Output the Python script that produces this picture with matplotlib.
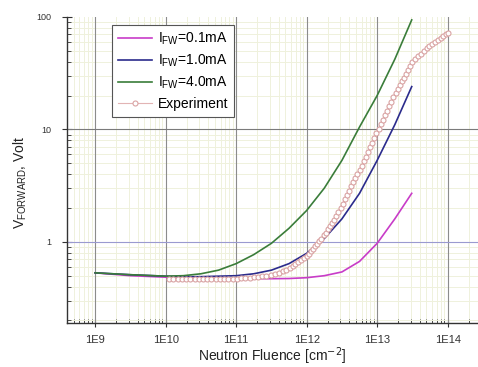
import matplotlib
matplotlib.use("Agg")
import matplotlib.pyplot as plt
import matplotlib.ticker as mticker
import numpy as np

plt.rcParams['font.family'] = ['Liberation Sans', 'DejaVu Sans']

# simulated curves, log10 of fluence vs forward voltage
lf_sim = [9.0, 9.5, 10.0, 10.25, 10.5, 10.75, 11.0, 11.25, 11.5, 11.75, 12.0, 12.25, 12.5, 12.75, 13.0, 13.25, 13.49]
v_01mA = [0.53, 0.50, 0.485, 0.48, 0.475, 0.472, 0.47, 0.47, 0.47, 0.472, 0.48, 0.50, 0.54, 0.67, 0.97, 1.6, 2.7]
v_10mA = [0.53, 0.51, 0.495, 0.49, 0.49, 0.495, 0.50, 0.52, 0.56, 0.64, 0.79, 1.07, 1.6, 2.7, 5.3, 11.0, 24.0]
v_40mA = [0.53, 0.51, 0.495, 0.50, 0.52, 0.56, 0.64, 0.77, 0.97, 1.32, 1.9, 3.0, 5.3, 10.5, 20.0, 42.0, 94.0]

# experiment points
lf_exp = [10.05, 10.11, 10.17, 10.23, 10.29, 10.35, 10.41, 10.47, 10.53, 10.59,
          10.65, 10.71, 10.77, 10.83, 10.89, 10.95, 11.01, 11.07, 11.13, 11.19,
          11.25, 11.31, 11.37, 11.43, 11.49, 11.55, 11.61, 11.66, 11.71, 11.76,
          11.80, 11.84, 11.88, 11.92, 11.96, 12.00, 12.03, 12.06, 12.09, 12.12,
          12.15, 12.18, 12.21, 12.24, 12.27, 12.30, 12.33, 12.36, 12.39, 12.42,
          12.45, 12.48, 12.51, 12.54, 12.57, 12.60, 12.63, 12.66, 12.69, 12.72,
          12.75, 12.78, 12.81, 12.84, 12.87, 12.90, 12.93, 12.96, 12.99, 13.02,
          13.05, 13.08, 13.11, 13.14, 13.17, 13.20, 13.23, 13.26, 13.29, 13.32,
          13.35, 13.38, 13.41, 13.44, 13.47, 13.50, 13.54, 13.58, 13.62, 13.66,
          13.70, 13.74, 13.78, 13.82, 13.86, 13.90, 13.94, 13.98, 14.00]
v_exp = [0.465, 0.465, 0.465, 0.464, 0.464, 0.464, 0.464, 0.464, 0.464, 0.465,
         0.465, 0.466, 0.467, 0.468, 0.469, 0.470, 0.472, 0.474, 0.477, 0.480,
         0.484, 0.489, 0.494, 0.500, 0.508, 0.518, 0.532, 0.548, 0.566, 0.588,
         0.610, 0.635, 0.662, 0.690, 0.720, 0.741, 0.780, 0.822, 0.866, 0.912,
         0.960, 1.01, 1.07, 1.14, 1.21, 1.29, 1.37, 1.46, 1.55, 1.68,
         1.84, 2.00, 2.19, 2.39, 2.62, 2.86, 3.12, 3.40, 3.70, 4.02,
         4.37, 4.74, 5.18, 5.70, 6.28, 6.92, 7.62, 8.39, 9.25, 10.1,
         11.1, 12.2, 13.3, 14.6, 16.0, 17.5, 19.2, 21.0, 22.7, 24.6,
         26.7, 28.9, 31.3, 33.9, 36.7, 39.8, 42.1, 44.5, 47.0, 49.7,
         52.5, 55.5, 57.9, 60.4, 62.8, 65.5, 68.2, 71.0, 72.4]

f_sim = 10.0 ** np.array(lf_sim)
f_exp = 10.0 ** np.array(lf_exp)

fig = plt.figure(figsize=(4.78, 3.67), dpi=100)
ax = fig.add_axes([0.140, 0.120, 0.860, 0.834])

ax.plot(f_sim, v_01mA, color='#c83cc8', lw=1.2, label='I$_{\\mathregular{FW}}$=0.1mA', zorder=3)
ax.plot(f_sim, v_10mA, color='#2b2b8c', lw=1.2, label='I$_{\\mathregular{FW}}$=1.0mA', zorder=3)
ax.plot(f_sim, v_40mA, color='#3a7d3a', lw=1.2, label='I$_{\\mathregular{FW}}$=4.0mA', zorder=3)
ax.plot(f_exp, v_exp, '-o', color='#e2b4b4', lw=0.8, ms=3.6, mfc='white',
        mec='#d9a3a3', mew=0.8, label='Experiment', zorder=4)

ax.set_xscale('log')
ax.set_yscale('log')
ax.set_xlim(10 ** 8.6, 10 ** 14.43)
ax.set_ylim(0.19, 100)

ax.xaxis.set_major_locator(mticker.LogLocator(base=10, numticks=20))
ax.xaxis.set_minor_locator(mticker.LogLocator(base=10, subs=np.arange(2, 10), numticks=20))
ax.xaxis.set_minor_formatter(mticker.NullFormatter())
ax.xaxis.set_major_formatter(mticker.FuncFormatter(lambda v, p: '1E%d' % round(np.log10(v))))
ax.yaxis.set_major_locator(mticker.FixedLocator([1, 10, 100]))
ax.yaxis.set_minor_locator(mticker.LogLocator(base=10, subs=np.arange(2, 10), numticks=20))
ax.yaxis.set_minor_formatter(mticker.NullFormatter())
ax.yaxis.set_major_formatter(mticker.FuncFormatter(lambda v, p: '%g' % v))

# grid: faint minor lines, then the decade lines on top of them
ax.grid(which='minor', color='#eff1dc', lw=0.7, zorder=0)
for e in range(9, 15):
    ax.axvline(10.0 ** e, color='#8c8c8c', lw=0.8, zorder=1)
ax.axhline(10, color='#7a7a7a', lw=0.8, zorder=1)
ax.axhline(1, color='#9a9ad0', lw=0.8, zorder=1)
ax.set_axisbelow(True)

for s in ['top', 'right']:
    ax.spines[s].set_visible(False)
for s in ['left', 'bottom']:
    ax.spines[s].set_color('#333333')
    ax.spines[s].set_linewidth(1.0)

ax.tick_params(axis='x', which='major', direction='inout', length=6, width=0.8, labelsize=8, colors='#333333', pad=6)
ax.tick_params(axis='y', which='major', direction='inout', length=7, width=0.8, labelsize=6.5, colors='#333333', pad=8)
ax.tick_params(which='minor', direction='in', length=3, width=0.6, colors='#333333')

ax.set_xlabel('Neutron Fluence [cm$^{-2}$]', fontsize=10, color='#222222', labelpad=0)
ax.set_ylabel('V$_{\\mathregular{FORWARD}}$, Volt', fontsize=10, color='#222222')
ax.yaxis.set_label_coords(-0.093, 0.46)

leg = ax.legend(loc='upper left', bbox_to_anchor=(0.109, 0.975), fontsize=10,
                frameon=True, fancybox=False, edgecolor='#555555', framealpha=1,
                handlelength=2.45, handletextpad=0.4, labelspacing=0.4, borderpad=0.45,
                borderaxespad=0)
leg.get_frame().set_linewidth(0.8)

fig.savefig('out.png', dpi=100)
